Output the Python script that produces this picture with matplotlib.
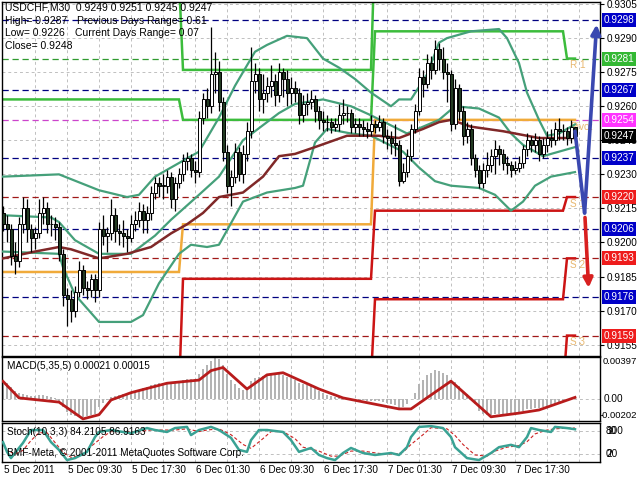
import matplotlib
matplotlib.use('Agg')
import matplotlib.pyplot as plt
import numpy as np

plt.rcParams['font.family'] = ['Liberation Sans', 'DejaVu Sans']

W, H = 640, 480

# USDCHF M30 candles, prices in pips (9213 -> 0.9213), first bar 5 Dec 01:30
opens = [9213, 9208, 9206, 9194, 9192, 9208, 9215, 9206, 9202, 9204,
         9213, 9215, 9208, 9208, 9207, 9195, 9177, 9175, 9170, 9178,
         9188, 9180, 9179, 9184, 9179, 9206, 9203, 9204, 9212, 9205,
         9204, 9203, 9202, 9208, 9210, 9214, 9210, 9213, 9222, 9226,
         9225, 9225, 9229, 9219, 9226, 9230, 9236, 9237, 9232, 9231,
         9255, 9263, 9260, 9274, 9275, 9262, 9240, 9225, 9229, 9240,
         9230, 9239, 9249, 9271, 9274, 9263, 9266, 9269, 9271, 9265,
         9275, 9272, 9266, 9268, 9266, 9256, 9261, 9262, 9263, 9258,
         9254, 9253, 9253, 9251, 9252, 9256, 9257, 9257, 9251, 9252,
         9251, 9250, 9249, 9252, 9251, 9253, 9247, 9246, 9244, 9243,
         9227, 9231, 9238, 9250, 9258, 9273, 9270, 9279, 9276, 9285,
         9281, 9275, 9274, 9252, 9268, 9258, 9247, 9250, 9237, 9232,
         9226, 9232, 9234, 9238, 9241, 9239, 9235, 9234, 9232, 9233,
         9235, 9241, 9245, 9243, 9245, 9239, 9243, 9246, 9245, 9250,
         9249, 9249, 9246, 9251]
closes = [9208, 9206, 9194, 9192, 9208, 9215, 9206, 9202, 9204, 9213,
          9215, 9208, 9208, 9207, 9195, 9177, 9175, 9170, 9178, 9188,
          9180, 9179, 9184, 9179, 9206, 9203, 9204, 9212, 9205, 9204,
          9203, 9202, 9208, 9210, 9214, 9210, 9213, 9222, 9226, 9225,
          9225, 9229, 9219, 9226, 9230, 9236, 9237, 9232, 9231, 9255,
          9263, 9260, 9274, 9275, 9262, 9240, 9225, 9229, 9240, 9230,
          9239, 9249, 9271, 9274, 9263, 9266, 9269, 9271, 9265, 9275,
          9272, 9266, 9268, 9266, 9256, 9261, 9262, 9263, 9258, 9254,
          9253, 9253, 9251, 9252, 9256, 9257, 9257, 9251, 9252, 9251,
          9250, 9249, 9252, 9251, 9253, 9247, 9246, 9244, 9243, 9227,
          9231, 9238, 9250, 9258, 9273, 9270, 9279, 9276, 9285, 9281,
          9275, 9274, 9252, 9268, 9258, 9247, 9250, 9237, 9232, 9226,
          9232, 9234, 9238, 9241, 9239, 9235, 9234, 9232, 9233, 9235,
          9241, 9245, 9243, 9245, 9239, 9243, 9246, 9245, 9250, 9249,
          9249, 9246, 9251, 9247]
highs = [9216, 9212, 9208, 9200, 9211, 9220, 9219, 9208, 9207, 9219,
         9220, 9218, 9212, 9211, 9209, 9197, 9180, 9179, 9181, 9192,
         9190, 9183, 9186, 9186, 9209, 9212, 9207, 9219, 9215, 9208,
         9210, 9206, 9212, 9214, 9218, 9217, 9216, 9225, 9229, 9229,
         9230, 9232, 9231, 9229, 9233, 9239, 9240, 9239, 9236, 9258,
         9266, 9268, 9295, 9284, 9280, 9264, 9243, 9232, 9244, 9242,
         9243, 9253, 9286, 9279, 9277, 9274, 9273, 9278, 9274, 9279,
         9277, 9276, 9273, 9271, 9268, 9265, 9266, 9267, 9265, 9260,
         9258, 9256, 9255, 9255, 9261, 9263, 9260, 9259, 9255, 9255,
         9254, 9253, 9256, 9254, 9256, 9255, 9250, 9249, 9252, 9245,
         9235, 9241, 9252, 9261, 9277, 9276, 9283, 9282, 9289, 9288,
         9286, 9279, 9276, 9272, 9270, 9260, 9253, 9252, 9239, 9234,
         9235, 9240, 9241, 9245, 9243, 9241, 9238, 9236, 9236, 9238,
         9243, 9248, 9247, 9248, 9247, 9246, 9249, 9250, 9253, 9255,
         9252, 9251, 9254, 9251]
lows = [9205, 9200, 9190, 9186, 9189, 9204, 9200, 9196, 9197, 9202,
        9208, 9204, 9203, 9201, 9192, 9172, 9163, 9165, 9167, 9176,
        9177, 9175, 9176, 9174, 9176, 9199, 9196, 9201, 9200, 9199,
        9198, 9196, 9200, 9205, 9207, 9204, 9204, 9210, 9219, 9220,
        9219, 9222, 9215, 9214, 9224, 9227, 9232, 9229, 9226, 9229,
        9252, 9255, 9257, 9266, 9258, 9236, 9222, 9216, 9226, 9227,
        9226, 9236, 9246, 9266, 9258, 9257, 9262, 9264, 9260, 9262,
        9264, 9260, 9261, 9262, 9252, 9253, 9256, 9259, 9253, 9250,
        9249, 9249, 9248, 9249, 9249, 9252, 9253, 9248, 9248, 9247,
        9247, 9246, 9247, 9248, 9249, 9244, 9241, 9239, 9238, 9225,
        9226, 9229, 9236, 9248, 9256, 9264, 9268, 9272, 9274, 9276,
        9272, 9262, 9249, 9250, 9254, 9243, 9244, 9234, 9229, 9224,
        9224, 9229, 9231, 9230, 9234, 9232, 9230, 9229, 9230, 9231,
        9233, 9238, 9240, 9240, 9236, 9237, 9240, 9242, 9243, 9245,
        9245, 9243, 9244, 9245]

# Bollinger bands and moving average (bar index, pips)
upper_x = [0, 14, 24, 31, 34, 38, 45, 49, 54, 58, 61, 63, 66, 71, 76, 80, 84, 88, 92,
           97, 99, 102, 106, 109, 111, 117, 124, 126, 129, 131, 134, 136, 139, 143]
upper_p = [9229, 9230, 9223, 9220, 9221, 9229, 9236, 9240, 9255, 9269, 9278, 9284, 9287,
           9291, 9290, 9281, 9277, 9272, 9266, 9260, 9263, 9263, 9274, 9288, 9290, 9293,
           9294, 9290, 9279, 9266, 9254, 9247, 9248, 9252]
middle_x = [0, 12, 14, 18, 24, 32, 38, 42, 49, 54, 60, 69, 73, 80, 87, 92, 101, 105,
            109, 113, 119, 124, 127, 130, 135, 143]
middle_p = [9212, 9211, 9209, 9201, 9195, 9195, 9203, 9210, 9221, 9229, 9245, 9257, 9261,
            9263, 9260, 9256, 9248, 9251, 9254, 9260, 9259, 9255, 9248, 9243, 9238, 9242]
lower_x = [0, 14, 15, 18, 24, 32, 35, 39, 44, 47, 51, 54, 60, 66, 73, 75, 78, 81, 87, 92,
           100, 104, 108, 112, 119, 123, 127, 130, 133, 137, 143]
lower_p = [9196, 9195, 9189, 9177, 9165, 9165, 9168, 9182, 9195, 9199, 9198, 9199, 9218,
           9222, 9224, 9225, 9244, 9250, 9248, 9247, 9240, 9233, 9227, 9225, 9224, 9221,
           9214, 9218, 9225, 9229, 9231]
ma_x = [0, 8, 14, 17, 24, 31, 37, 42, 46, 50, 54, 57, 60, 65, 69, 73, 78, 86, 94, 99,
        105, 109, 112, 117, 125, 134, 143]
ma_p = [9193, 9196, 9198, 9197, 9193, 9195, 9198, 9204, 9208, 9213, 9220, 9221, 9222,
        9229, 9238, 9239, 9242, 9247, 9247, 9246, 9250, 9253, 9254, 9251, 9249, 9246, 9246]

# daily pivot levels (day start bar, day end bar)
day_start = [0, 45, 93, 141]
day_end = [44, 92, 140, 143]
pivot = [9187, 9208, 9254, 9254]
r1 = [9263, 9254, 9293, 9281]
r2 = [9316, 9276, 9333, 9315]
s1 = [9134, 9184, 9214, 9220]
s2 = [9058, 9140, 9175, 9193]
s3 = [9000, 9118, 9135, 9159]

# horizontal levels with right-hand price tags
level_prices = [9298, 9281, 9267, 9254, 9237, 9220, 9206, 9193, 9176, 9159]
level_lines = ['#000080', '#2f9a2f', '#000080', '#cc44cc', '#000080', '#a01818',
               '#000080', '#a01818', '#000080', '#a01818']
level_tags = ['#0000c8', '#33b833', '#0000c8', '#ff33ff', '#0000c8', '#ee1c1c',
              '#0000c8', '#ee1c1c', '#0000c8', '#ee1c1c']
last_price = 9247

# forecast arrows (bar index, pips)
blue_x = [143, 145.4, 148.4]
blue_p = [9249, 9213, 9296]
red_x = [145.5, 146.4]
red_p = [9211, 9180]

# MACD(5,35,5): histogram per bar (1e-5) and signal line points
macd_hist = [140, 150, 110, 80, 60, 50, 40, 30, 30, 35,
             35, 25, 20, 10, -20, -80, -120, -150, -160, -160,
             -170, -160, -150, -140, -80, -40, -10, 20, 30, 40,
             50, 60, 70, 80, 90, 100, 110, 130, 140, 150,
             155, 160, 160, 165, 175, 185, 190, 190, 190, 240,
             290, 320, 360, 390, 380, 320, 240, 180, 140, 100,
             90, 110, 170, 200, 210, 220, 230, 240, 230, 240,
             230, 210, 200, 180, 150, 140, 130, 120, 100, 80,
             60, 40, 30, 20, 20, 20, 10, 0, 0, -10,
             -10, -20, -20, -20, -20, -30, -40, -50, -60, -90,
             -80, -50, 0, 60, 140, 180, 230, 250, 280, 270,
             250, 230, 170, 160, 120, 80, 50, 0, -50, -110,
             -140, -150, -150, -140, -140, -140, -140, -140, -130, -120,
             -110, -100, -100, -90, -90, -80, -70, -60, -50, -40,
             -30, -20, 0, 20]
macd_sig_x = [0, 4, 9, 14, 20, 24, 27, 32, 41, 49, 52, 55, 61, 66, 70, 79, 85, 99,
              102, 112, 122, 129, 134, 143]
macd_sig = [168, 10, -10, -30, -190, -150, -10, 60, 150, 180, 270, 300, 95, 230, 250,
            95, 10, -95, -95, 170, -170, -135, -105, 15]

# Stochastic(10,3,3)
stoch_x = [0, 1, 2, 4, 5, 7, 10, 12, 14, 16, 18, 21, 23, 24, 27, 30, 32, 36, 38, 41, 43,
           46, 47, 49, 52, 54, 57, 59, 61, 62, 64, 66, 70, 72, 74, 77, 79, 81, 83, 85, 87,
           90, 93, 97, 99, 101, 102, 104, 107, 110, 112, 113, 116, 119, 122, 124, 127,
           129, 131, 132, 134, 137, 138, 141, 143]
stoch_main = [51, 26, 10, 36, 49, 82, 82, 51, 31, 5, 10, 26, 64, 77, 82, 77, 74, 87, 82,
              77, 87, 90, 69, 82, 90, 82, 62, 31, 26, 56, 82, 82, 77, 56, 26, 36, 18, 10,
              5, 23, 36, 23, 18, 23, 18, 38, 64, 90, 92, 87, 64, 38, 10, 5, 23, 38, 44, 38,
              64, 87, 82, 77, 90, 87, 84]
stoch_sig_x = [0, 1, 3, 5, 7, 9, 11, 13, 15, 17, 20, 22, 25, 27, 30, 34, 37, 40, 43, 46,
               49, 51, 54, 57, 60, 62, 65, 67, 70, 73, 75, 79, 82, 84, 87, 90, 94, 98, 100,
               102, 105, 107, 111, 113, 115, 118, 121, 123, 126, 129, 131, 133, 136, 138,
               141, 143]
stoch_sig = [45, 30, 20, 30, 55, 75, 75, 50, 25, 12, 18, 40, 65, 78, 78, 78, 82, 82, 82,
             85, 78, 82, 85, 70, 45, 35, 60, 78, 78, 60, 38, 28, 15, 15, 28, 28, 22, 20, 25,
             45, 70, 88, 85, 68, 45, 18, 15, 28, 38, 42, 52, 72, 82, 85, 87, 87]

time_labels = ['5 Dec 2011', '5 Dec 09:30', '5 Dec 17:30', '6 Dec 01:30', '6 Dec 09:30',
               '6 Dec 17:30', '7 Dec 01:30', '7 Dec 09:30', '7 Dec 17:30']
time_bars = [0, 16, 32, 48, 64, 80, 96, 112, 128]

P = 1e4
GRID = '#c0c0c0'
FS = 7.2


def rect(x0, y0, x1, y1):
    return [x0 / W, 1 - y1 / H, (x1 - x0) / W, (y1 - y0) / H]


fig = plt.figure(figsize=(W / 100, H / 100), dpi=100)
fig.patch.set_facecolor('white')
ax = fig.add_axes(rect(2, 2, 600, 356))
axm = fig.add_axes(rect(2, 357, 600, 421))
axs = fig.add_axes(rect(2, 423, 600, 462))

XLIM = (-0.25, 149.25)
for a in (ax, axm, axs):
    a.set_xlim(*XLIM)
    a.set_xticks([])
    for sp in a.spines.values():
        sp.set_color('black')
        sp.set_linewidth(1.0)
    for k in range(1, 19):
        a.axvline(8 * k, color=GRID, lw=0.7, ls=(0, (3, 3)), zorder=0)
    a.tick_params(axis='y', which='both', right=True, left=False, labelleft=False,
                  labelright=True, labelsize=FS, length=3, pad=2, direction='out')

# ---- main price panel
ax.set_ylim(0.9150, 0.930591)
ticks = [0.9155 + 0.0015 * k for k in range(11)]
ax.set_yticks(ticks)
ax.set_yticklabels([f'{t:.4f}' for t in ticks])
for t in ticks:
    ax.axhline(t, color=GRID, lw=0.7, ls=(0, (3, 3)), zorder=0)

for lv, col in zip(level_prices, level_lines):
    ax.axhline(lv / P, color=col, lw=0.9, ls=(0, (5, 3)), zorder=1)

for lvl, col in [(r2, '#3cbc3c'), (r1, '#3cbc3c'), (pivot, '#f0aa3a'),
                 (s1, '#cc1414'), (s2, '#cc1414'), (s3, '#cc1414')]:
    xs, ys = [], []
    for a, b, v in zip(day_start, day_end, lvl):
        xs += [a, b]
        ys += [v / P, v / P]
    ax.plot(xs, ys, color=col, lw=1.8, zorder=2, solid_joinstyle='miter')

for name, v in [('R 1', r1[-1]), ('Pivot', pivot[-1]), ('S 1', s1[-1]),
                ('S 2', s2[-1]), ('S 3', s3[-1])]:
    ax.text(141.7, v / P - 0.00008, name, color='#e8b870', fontsize=FS, va='top', zorder=3)

band_col = '#45a07a'
ax.plot(upper_x, np.array(upper_p) / P, color=band_col, lw=1.6, zorder=3)
ax.plot(middle_x, np.array(middle_p) / P, color=band_col, lw=1.6, zorder=3)
ax.plot(lower_x, np.array(lower_p) / P, color=band_col, lw=1.6, zorder=3)
ax.plot(ma_x, np.array(ma_p) / P, color='#802828', lw=1.8, zorder=3)

o = np.array(opens) / P
c = np.array(closes) / P
hi = np.array(highs) / P
lo = np.array(lows) / P
idx = np.arange(len(o))
ax.vlines(idx, lo, hi, color='black', lw=0.9, zorder=4)
body_lo = np.minimum(o, c)
body_h = np.maximum(np.abs(c - o), 0.00002)
body_col = ['white' if cc >= oo else '#223a22' for oo, cc in zip(o, c)]
ax.bar(idx, body_h, bottom=body_lo, width=0.75, color=body_col, edgecolor='black',
       linewidth=0.7, zorder=5)

ax.plot(blue_x[:2], np.array(blue_p[:2]) / P, color='#3a48b0', lw=2.6, zorder=6,
        solid_capstyle='round')
ax.annotate('', xy=(blue_x[2], blue_p[2] / P), xytext=(blue_x[1], blue_p[1] / P),
            arrowprops=dict(arrowstyle='-|>', color='#3a48b0', lw=2.6, mutation_scale=14,
                            shrinkA=0, shrinkB=0), zorder=6)
ax.annotate('', xy=(red_x[1], red_p[1] / P), xytext=(red_x[0], red_p[0] / P),
            arrowprops=dict(arrowstyle='-|>', color='#d82020', lw=2.6, mutation_scale=14,
                            shrinkA=0, shrinkB=0), zorder=6)

tr = ax.get_yaxis_transform()
for lv, col in zip(level_prices, level_tags):
    ax.text(1.006, lv / P, f'{lv / P:.4f}', transform=tr, color='white', fontsize=FS,
            va='center', ha='left', clip_on=False, zorder=10,
            bbox=dict(boxstyle='square,pad=0.2', fc=col, ec='none'))
ax.text(1.006, last_price / P, f'{last_price / P:.4f}', transform=tr, color='white',
        fontsize=FS, va='center', ha='left', clip_on=False, zorder=10,
        bbox=dict(boxstyle='square,pad=0.2', fc='black', ec='none'))

info = [(5, 8, 'USDCHF,M30  0.9249 0.9251 0.9245 0.9247'),
        (5, 21, 'High= 0.9287'), (77, 21, 'Previous Days Range= 0.61'),
        (5, 33, 'Low= 0.9226'), (75, 33, 'Current Days Range= 0.07'),
        (5, 46, 'Close= 0.9248')]
for x0, y0, s in info:
    fig.text(x0 / W, 1 - y0 / H, s, fontsize=FS + 0.3, va='center', ha='left',
             color='black')

# ---- MACD panel
axm.set_ylim(-0.0021, 0.0040)
axm.set_yticks([])
axm.axhline(0, color=GRID, lw=0.7, ls=(0, (3, 3)), zorder=0)
axm.bar(idx, np.array(macd_hist) * 1e-5, width=0.45, color='#b4b4b4', zorder=2)
axm.plot(macd_sig_x, np.array(macd_sig) * 1e-5, color='#b81c1c', lw=2.0, zorder=3)
trm = axm.get_yaxis_transform()
axm.text(1.004, 0.00397, '0.00397', transform=trm, fontsize=FS - 0.4, va='top',
         clip_on=False)
axm.text(1.006, 0.0, '0.00', transform=trm, fontsize=FS, va='center', clip_on=False)
axm.text(1.0, -0.00202, '-0.00202', transform=trm, fontsize=FS - 0.4, va='bottom',
         clip_on=False)
axm.text(0.008, 0.86, 'MACD(5,35,5) 0.00021 0.00015', transform=axm.transAxes,
         fontsize=FS, va='center')

# ---- Stochastic panel
axs.set_ylim(0, 100)
axs.set_yticks([])
for lv in (80, 20):
    axs.axhline(lv, color=GRID, lw=0.7, ls=(0, (3, 3)), zorder=0)
axs.plot(stoch_sig_x, stoch_sig, color='#cc2222', lw=0.8, ls=(0, (3, 2)), zorder=2)
axs.plot(stoch_x, stoch_main, color='#3aa294', lw=1.8, zorder=3)
trs = axs.get_yaxis_transform()
for lab, lv in [('100', 80), ('80', 80), ('20', 20), ('0', 20)]:
    axs.text(1.01, lv, lab, transform=trs, fontsize=FS, va='center', clip_on=False)
axs.text(0.008, 0.78, 'Stoch(10,3,3) 84.2105 86.9163', transform=axs.transAxes,
         fontsize=FS, va='center')
axs.text(0.008, 0.22, 'BMF-Meta, \u00a9 2001-2011 MetaQuotes Software Corp.',
         transform=axs.transAxes, fontsize=FS, va='center')

for b, lab in zip(time_bars, time_labels):
    xp = 3 + 4 * b
    fig.text((xp + 1) / W, 1 - 470 / H, lab, fontsize=FS, va='center', ha='left')

fig.savefig('out.png', dpi=100, facecolor='white')
